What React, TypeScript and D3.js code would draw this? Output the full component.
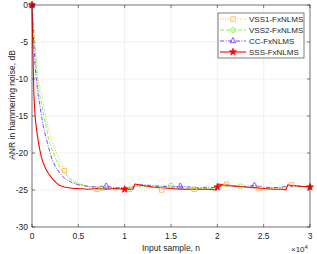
import * as d3 from "d3";

const W = 317;
const H = 254;
const margin = { top: 5, right: 7, bottom: 27, left: 32 };

const X = [0, 100, 200, 300, 400, 500, 650, 800, 1000, 1200, 1500, 1800, 2200, 2600, 3000, 3500, 4000, 4500, 5000, 6000, 7000, 8000, 9000, 10000, 10900, 11100, 12000, 13000, 14000, 15000, 16000, 17000, 18000, 19000, 19900, 20100, 21000, 22000, 23000, 24000, 25000, 26000, 27000, 27400, 27600, 28000, 29000, 30000];

const VSS1 = [0, -1.6, -3.2, -4.7, -6.2, -7.7, -10.0, -10.8, -11.9, -12.9, -15.1, -16.8, -18.6, -19.8, -20.9, -22.4, -23.2, -23.7, -24.1, -24.5, -24.9, -24.8, -24.8, -24.9, -24.9, -24.5, -24.6, -24.6, -25.0, -24.7, -24.8, -24.9, -24.9, -24.9, -24.9, -24.2, -24.2, -24.5, -24.6, -24.8, -24.8, -24.7, -24.8, -24.8, -24.3, -24.3, -24.5, -24.6];
const VSS2 = [0, -1.8, -3.5, -5.2, -7.2, -9.2, -10.8, -12.0, -13.2, -14.5, -16.3, -18.2, -19.7, -20.9, -21.9, -22.7, -23.4, -23.9, -24.2, -24.5, -24.7, -24.8, -24.8, -24.8, -24.8, -24.5, -24.5, -24.6, -24.5, -24.4, -24.7, -24.8, -24.8, -24.8, -24.8, -24.4, -24.5, -24.4, -24.6, -24.6, -24.8, -24.7, -24.7, -24.7, -24.4, -24.4, -24.5, -24.6];
const CC = [0, -2.8, -5.5, -7.6, -9.3, -10.5, -12.0, -13.2, -14.8, -16.3, -17.9, -19.3, -21.0, -22.0, -22.7, -23.4, -23.8, -24.1, -24.3, -24.5, -24.6, -24.5, -24.7, -24.7, -24.6, -24.4, -24.3, -24.4, -24.5, -24.6, -24.5, -24.6, -24.7, -24.6, -24.7, -24.5, -24.3, -24.5, -24.5, -24.4, -24.6, -24.7, -24.6, -24.5, -24.4, -24.5, -24.5, -24.6];
const SSS = [0, -6.5, -12, -14.4, -15.9, -16.9, -18.2, -19.3, -20.5, -21.3, -22.2, -22.8, -23.5, -24.0, -24.4, -24.6, -24.7, -24.8, -24.8, -24.9, -24.8, -24.9, -24.8, -24.9, -24.9, -24.2, -24.4, -24.6, -24.7, -24.8, -24.9, -24.9, -24.9, -24.9, -25.0, -24.2, -24.4, -24.5, -24.6, -24.7, -24.8, -24.9, -24.9, -25.0, -24.3, -24.4, -24.5, -24.6];

const X_TICKS = [0, 5000, 10000, 15000, 20000, 25000, 30000];
const X_TICK_LABELS = ["0", "0.5", "1", "1.5", "2", "2.5", "3"];
const Y_TICKS = [0, -5, -10, -15, -20, -25, -30];

const series = [
  { name: "VSS1-FxNLMS", values: VSS1, color: "#ffb347", dash: "1,1.5", marker: "square", step: 3500, width: 0.9 },
  { name: "VSS2-FxNLMS", values: VSS2, color: "#66ff33", dash: "4,2", marker: "circle", step: 7500, width: 0.9 },
  { name: "CC-FxNLMS", values: CC, color: "#7030ff", dash: "4,1.5,1,1.5", marker: "triangle", step: 8000, width: 0.9 },
  { name: "SSS-FxNLMS", values: SSS, color: "#ff0000", dash: "", marker: "star", step: 10000, width: 1.1 },
];

const font = "'Liberation Sans', Arial, sans-serif";
const axisColor = "#262626";

function markerPath(type: string) {
  if (type === "square") return d3.symbol(d3.symbolSquare, 20)();
  if (type === "circle") return d3.symbol(d3.symbolCircle, 19)();
  if (type === "triangle") return d3.symbol(d3.symbolTriangle, 15)();
  return d3.symbol(d3.symbolStar, 15)();
}

const App = () => {
  const iw = W - margin.left - margin.right;
  const ih = H - margin.top - margin.bottom;
  const x = d3.scaleLinear().domain([0, 30000]).range([0, iw]);
  const y = d3.scaleLinear().domain([-30, 0]).range([ih, 0]);

  const line = d3
    .line<number>()
    .x((_, i) => x(X[i]))
    .y((d) => y(d));

  const interp = (vals: number[], xv: number) => {
    const i = Math.min(d3.bisectRight(X, xv), X.length - 1);
    if (i === 0) return vals[0];
    const t = (xv - X[i - 1]) / (X[i] - X[i - 1]);
    return vals[i - 1] + Math.min(1, t) * (vals[i] - vals[i - 1]);
  };

  return (
    <svg width={W} height={H} style={{ position: "absolute", left: 0, top: 0, background: "#fff" }} fontFamily={font}>
      <g transform={`translate(${margin.left},${margin.top})`}>
        {/* grid */}
        {X_TICKS.map((t) => (
          <line key={"gx" + t} x1={x(t)} x2={x(t)} y1={0} y2={ih} stroke="#e6e6e6" strokeWidth={0.6} />
        ))}
        {Y_TICKS.map((t) => (
          <line key={"gy" + t} x1={0} x2={iw} y1={y(t)} y2={y(t)} stroke="#e6e6e6" strokeWidth={0.6} />
        ))}

        {/* series lines */}
        {series.map((s) => (
          <path key={s.name} d={line(s.values) || ""} fill="none" stroke={s.color} strokeWidth={s.width} strokeDasharray={s.dash} strokeLinejoin="round" />
        ))}

        {/* markers */}
        {series.map((s) =>
          d3.range(0, 30001, s.step).map((xv) => (
            <path
              key={s.name + xv}
              d={markerPath(s.marker) || ""}
              transform={`translate(${x(xv)},${y(interp(s.values, xv))})`}
              fill={s.marker === "star" ? s.color : "none"}
              stroke={s.color}
              strokeWidth={0.8}
            />
          ))
        )}

        {/* axes box */}
        <rect x={0} y={0} width={iw} height={ih} fill="none" stroke={axisColor} strokeWidth={0.6} />
        {X_TICKS.map((t, i) => (
          <g key={"xt" + t}>
            <line x1={x(t)} x2={x(t)} y1={ih} y2={ih - 3} stroke={axisColor} strokeWidth={0.6} />
            <line x1={x(t)} x2={x(t)} y1={0} y2={3} stroke={axisColor} strokeWidth={0.6} />
            <text x={x(t)} y={ih + 12} fontSize={8.5} fill={axisColor} textAnchor="middle">
              {X_TICK_LABELS[i]}
            </text>
          </g>
        ))}
        {Y_TICKS.map((t) => (
          <g key={"yt" + t}>
            <line x1={0} x2={3} y1={y(t)} y2={y(t)} stroke={axisColor} strokeWidth={0.6} />
            <line x1={iw} x2={iw - 3} y1={y(t)} y2={y(t)} stroke={axisColor} strokeWidth={0.6} />
            <text x={-4} y={y(t) + 3} fontSize={8.5} fill={axisColor} textAnchor="end">
              {t}
            </text>
          </g>
        ))}

        <text x={iw / 2} y={ih + 24} fontSize={8.5} fill={axisColor} textAnchor="middle">
          Input sample, n
        </text>
        <text x={iw - 19} y={ih + 25} fontSize={8} fill={axisColor}>
          ×10
          <tspan fontSize={6} dy={-3.5}>4</tspan>
        </text>
        <text transform={`translate(${-17.5},${100}) rotate(-90)`} fontSize={8.5} fill={axisColor} textAnchor="middle">
          ANR in hammering noise, dB
        </text>

        {/* legend */}
        <g transform={`translate(${218 - margin.left},${13 - margin.top})`}>
          <rect x={0} y={0} width={86} height={45} fill="#fff" stroke={axisColor} strokeWidth={0.6} />
          {series.map((s, i) => (
            <g key={"lg" + s.name} transform={`translate(0,${6 + i * 11})`}>
              <line x1={2} x2={28} y1={0} y2={0} stroke={s.color} strokeWidth={s.width} strokeDasharray={s.dash} />
              <path
                d={markerPath(s.marker) || ""}
                transform="translate(15,0)"
                fill={s.marker === "star" ? s.color : "none"}
                stroke={s.color}
                strokeWidth={0.8}
              />
              <text x={31} y={3} fontSize={8} fill={axisColor}>
                {s.name}
              </text>
            </g>
          ))}
        </g>
      </g>
    </svg>
  );
};

export default App;
